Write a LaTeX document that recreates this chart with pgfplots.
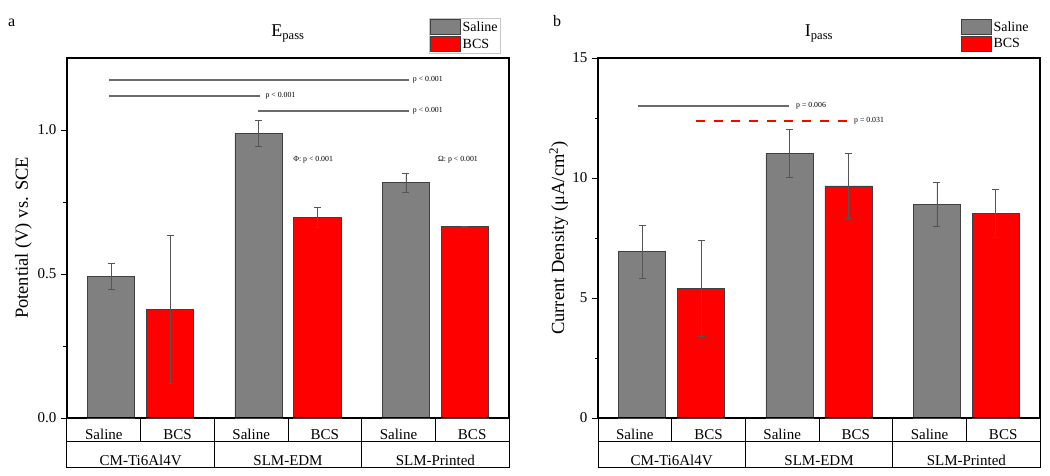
\documentclass[border=0pt]{standalone}
\usepackage{fontspec}
\setmainfont{Liberation Serif}
\usepackage{pgfplots}
\pgfplotsset{compat=1.18}
\definecolor{barGray}{HTML}{808080}
\definecolor{errGray}{HTML}{555555}
\definecolor{sigGray}{HTML}{6A6A6A}
\definecolor{barRed}{HTML}{FF0000}

\pgfplotsset{
  panel/.style={
    scale only axis, width=442pt, height=360pt,
    xmin=0, xmax=6, ymin=0,
    clip=false,
    axis line style={line width=1.1pt},
    xtick={0.5,1.5,2.5,3.5,4.5,5.5},
    xticklabels={Saline,BCS,Saline,BCS,Saline,BCS},
    x tick style={draw=none},
    xticklabel style={anchor=base, yshift=-16pt, font=\fontsize{15}{18}\selectfont},
    extra x ticks={1,3,5},
    extra x tick labels={CM-Ti6Al4V,SLM-EDM,SLM-Printed},
    extra x tick style={xticklabel style={yshift=-26pt}},
    ytick pos=left, xtick pos=bottom,
    tick align=outside,
    major tick length=6pt, minor tick length=3.5pt,
    minor y tick num=1,
    y tick style={line width=0.9pt, black},
    yticklabel style={font=\fontsize{15}{18}\selectfont, xshift=-1pt},
    /pgf/number format/assume math mode=true,
    legend style={at={(axis description cs:0.819,1.111)}, anchor=north west,
      inner sep=1pt, row sep=1pt, font=\fontsize{14}{16}\selectfont,
      nodes={inner sep=1.5pt}},
    legend cell align=left,
  },
  errstyle/.style={error bars/.cd, y dir=both, y explicit,
    error mark=|,
    error bar style={errGray, line width=0.7pt},
    error mark options={errGray, mark size=3.5pt, line width=0.7pt}},
  barS/.style={ybar, bar width=0.64, bar shift=0pt, fill=barGray, draw=black!75, line width=0.8pt,
    legend image code/.code={\draw[fill=barGray, draw=black!75, line width=0.8pt] (0pt,-7.5pt) rectangle (30pt,7.5pt);},
    errstyle},
  barB/.style={ybar, bar width=0.64, bar shift=0pt, fill=barRed, draw=black!75, line width=0.8pt,
    legend image code/.code={\draw[fill=barRed, draw=black!75, line width=0.8pt] (0pt,-7.5pt) rectangle (30pt,7.5pt);},
    errstyle},
}

\newcommand{\drawtable}{%
  \draw[line width=1pt] (axis cs:0,0) rectangle ([yshift=-50pt]axis cs:6,0);
  \draw[line width=1pt] ([yshift=-24pt]axis cs:0,0) -- ([yshift=-24pt]axis cs:6,0);
  \draw[line width=1pt] (axis cs:1,0) -- ([yshift=-24pt]axis cs:1,0);
  \draw[line width=1pt] (axis cs:2,0) -- ([yshift=-50pt]axis cs:2,0);
  \draw[line width=1pt] (axis cs:3,0) -- ([yshift=-24pt]axis cs:3,0);
  \draw[line width=1pt] (axis cs:4,0) -- ([yshift=-50pt]axis cs:4,0);
  \draw[line width=1pt] (axis cs:5,0) -- ([yshift=-24pt]axis cs:5,0);
}

\begin{document}
\begin{tikzpicture}
\path[use as bounding box] (0,0) rectangle (1050pt,476pt);

% ---------------- panel a ----------------
\begin{axis}[panel, at={(67pt,58pt)}, anchor=south west,
  ymax=1.25, ytick={0,0.5,1.0},
  yticklabel style={/pgf/number format/.cd, fixed, fixed zerofill, precision=1},
  every axis y label/.style={at={(axis description cs:-0.0984,0.5)}, rotate=90, anchor=center},
  ylabel={\fontsize{18.5}{20}\selectfont Potential (V) vs. SCE},
  legend style={draw=gray!45, line width=0.8pt},
]
\addplot[barS] coordinates {(0.6,0.492) +- (0,0.045) (2.6,0.988) +- (0,0.045) (4.6,0.817) +- (0,0.033)};
\addplot[barB] coordinates {(1.4,0.377) +- (0,0.256) (3.4,0.697) +- (0,0.036) (5.4,0.664) +- (0,0.003)};
\addlegendentry{Saline}
\addlegendentry{BCS}
\addplot[sharp plot, no marks, sigGray, line width=1.6pt, forget plot] coordinates {(0.57,1.173) (4.643,1.173)};
\addplot[sharp plot, no marks, sigGray, line width=1.6pt, forget plot] coordinates {(0.57,1.118) (2.62,1.118)};
\addplot[sharp plot, no marks, sigGray, line width=1.6pt, forget plot] coordinates {(2.593,1.066) (4.643,1.066)};
\node[anchor=west, font=\fontsize{7.8}{9}\selectfont, inner sep=1pt] at (axis cs:4.68,1.173) {p < 0.001};
\node[anchor=west, font=\fontsize{7.8}{9}\selectfont, inner sep=1pt] at (axis cs:2.68,1.118) {p < 0.001};
\node[anchor=west, font=\fontsize{7.8}{9}\selectfont, inner sep=1pt] at (axis cs:4.68,1.066) {p < 0.001};
\node[anchor=west, font=\fontsize{7.8}{9}\selectfont, inner sep=0pt] at (axis cs:3.07,0.896) {Φ: p < 0.001};
\node[anchor=west, font=\fontsize{7.8}{9}\selectfont, inner sep=0pt] at (axis cs:5.036,0.896) {Ω: p < 0.001};
\drawtable
\node[anchor=base, font=\fontsize{18}{20}\selectfont] at ([yshift=21pt]axis description cs:0.5,1) {E\textsubscript{pass}};
\node[anchor=base west, font=\fontsize{16}{18}\selectfont, inner sep=0pt] at ([xshift=-59pt, yshift=31pt]axis description cs:0,1) {a};
\end{axis}

% ---------------- panel b ----------------
\begin{axis}[panel, at={(598pt,58pt)}, anchor=south west,
  ymax=15, ytick={0,5,10,15},
  every axis y label/.style={at={(axis description cs:-0.089,0.5)}, rotate=90, anchor=center},
  ylabel={\fontsize{18.5}{20}\selectfont Current Density (μA/cm\textsuperscript{2})},
  legend style={draw=none},
]
\addplot[barS] coordinates {(0.6,6.93) +- (0,1.11) (2.6,11.03) +- (0,1.0) (4.6,8.90) +- (0,0.9)};
\addplot[barB] coordinates {(1.4,5.40) +- (0,2.01) (3.4,9.67) +- (0,1.36) (5.4,8.53) +- (0,1.0)};
\addlegendentry{Saline}
\addlegendentry{BCS}
\addplot[sharp plot, no marks, sigGray, line width=1.6pt, forget plot] coordinates {(0.539,13.01) (2.593,13.01)};
\addplot[sharp plot, no marks, barRed, line width=2pt, dash pattern=on 9pt off 8.7pt, forget plot] coordinates {(1.33,12.39) (3.394,12.39)};
\node[anchor=west, font=\fontsize{7.8}{9}\selectfont, inner sep=1pt] at (axis cs:2.674,13.01) {p = 0.006};
\node[anchor=west, font=\fontsize{7.8}{9}\selectfont, inner sep=1pt] at (axis cs:3.461,12.39) {p = 0.031};
\drawtable
\node[anchor=base, font=\fontsize{18}{20}\selectfont] at ([yshift=21pt]axis description cs:0.5,1) {I\textsubscript{pass}};
\node[anchor=base west, font=\fontsize{16}{18}\selectfont, inner sep=0pt] at ([xshift=-45pt, yshift=31pt]axis description cs:0,1) {b};
\end{axis}
\end{tikzpicture}
\end{document}
